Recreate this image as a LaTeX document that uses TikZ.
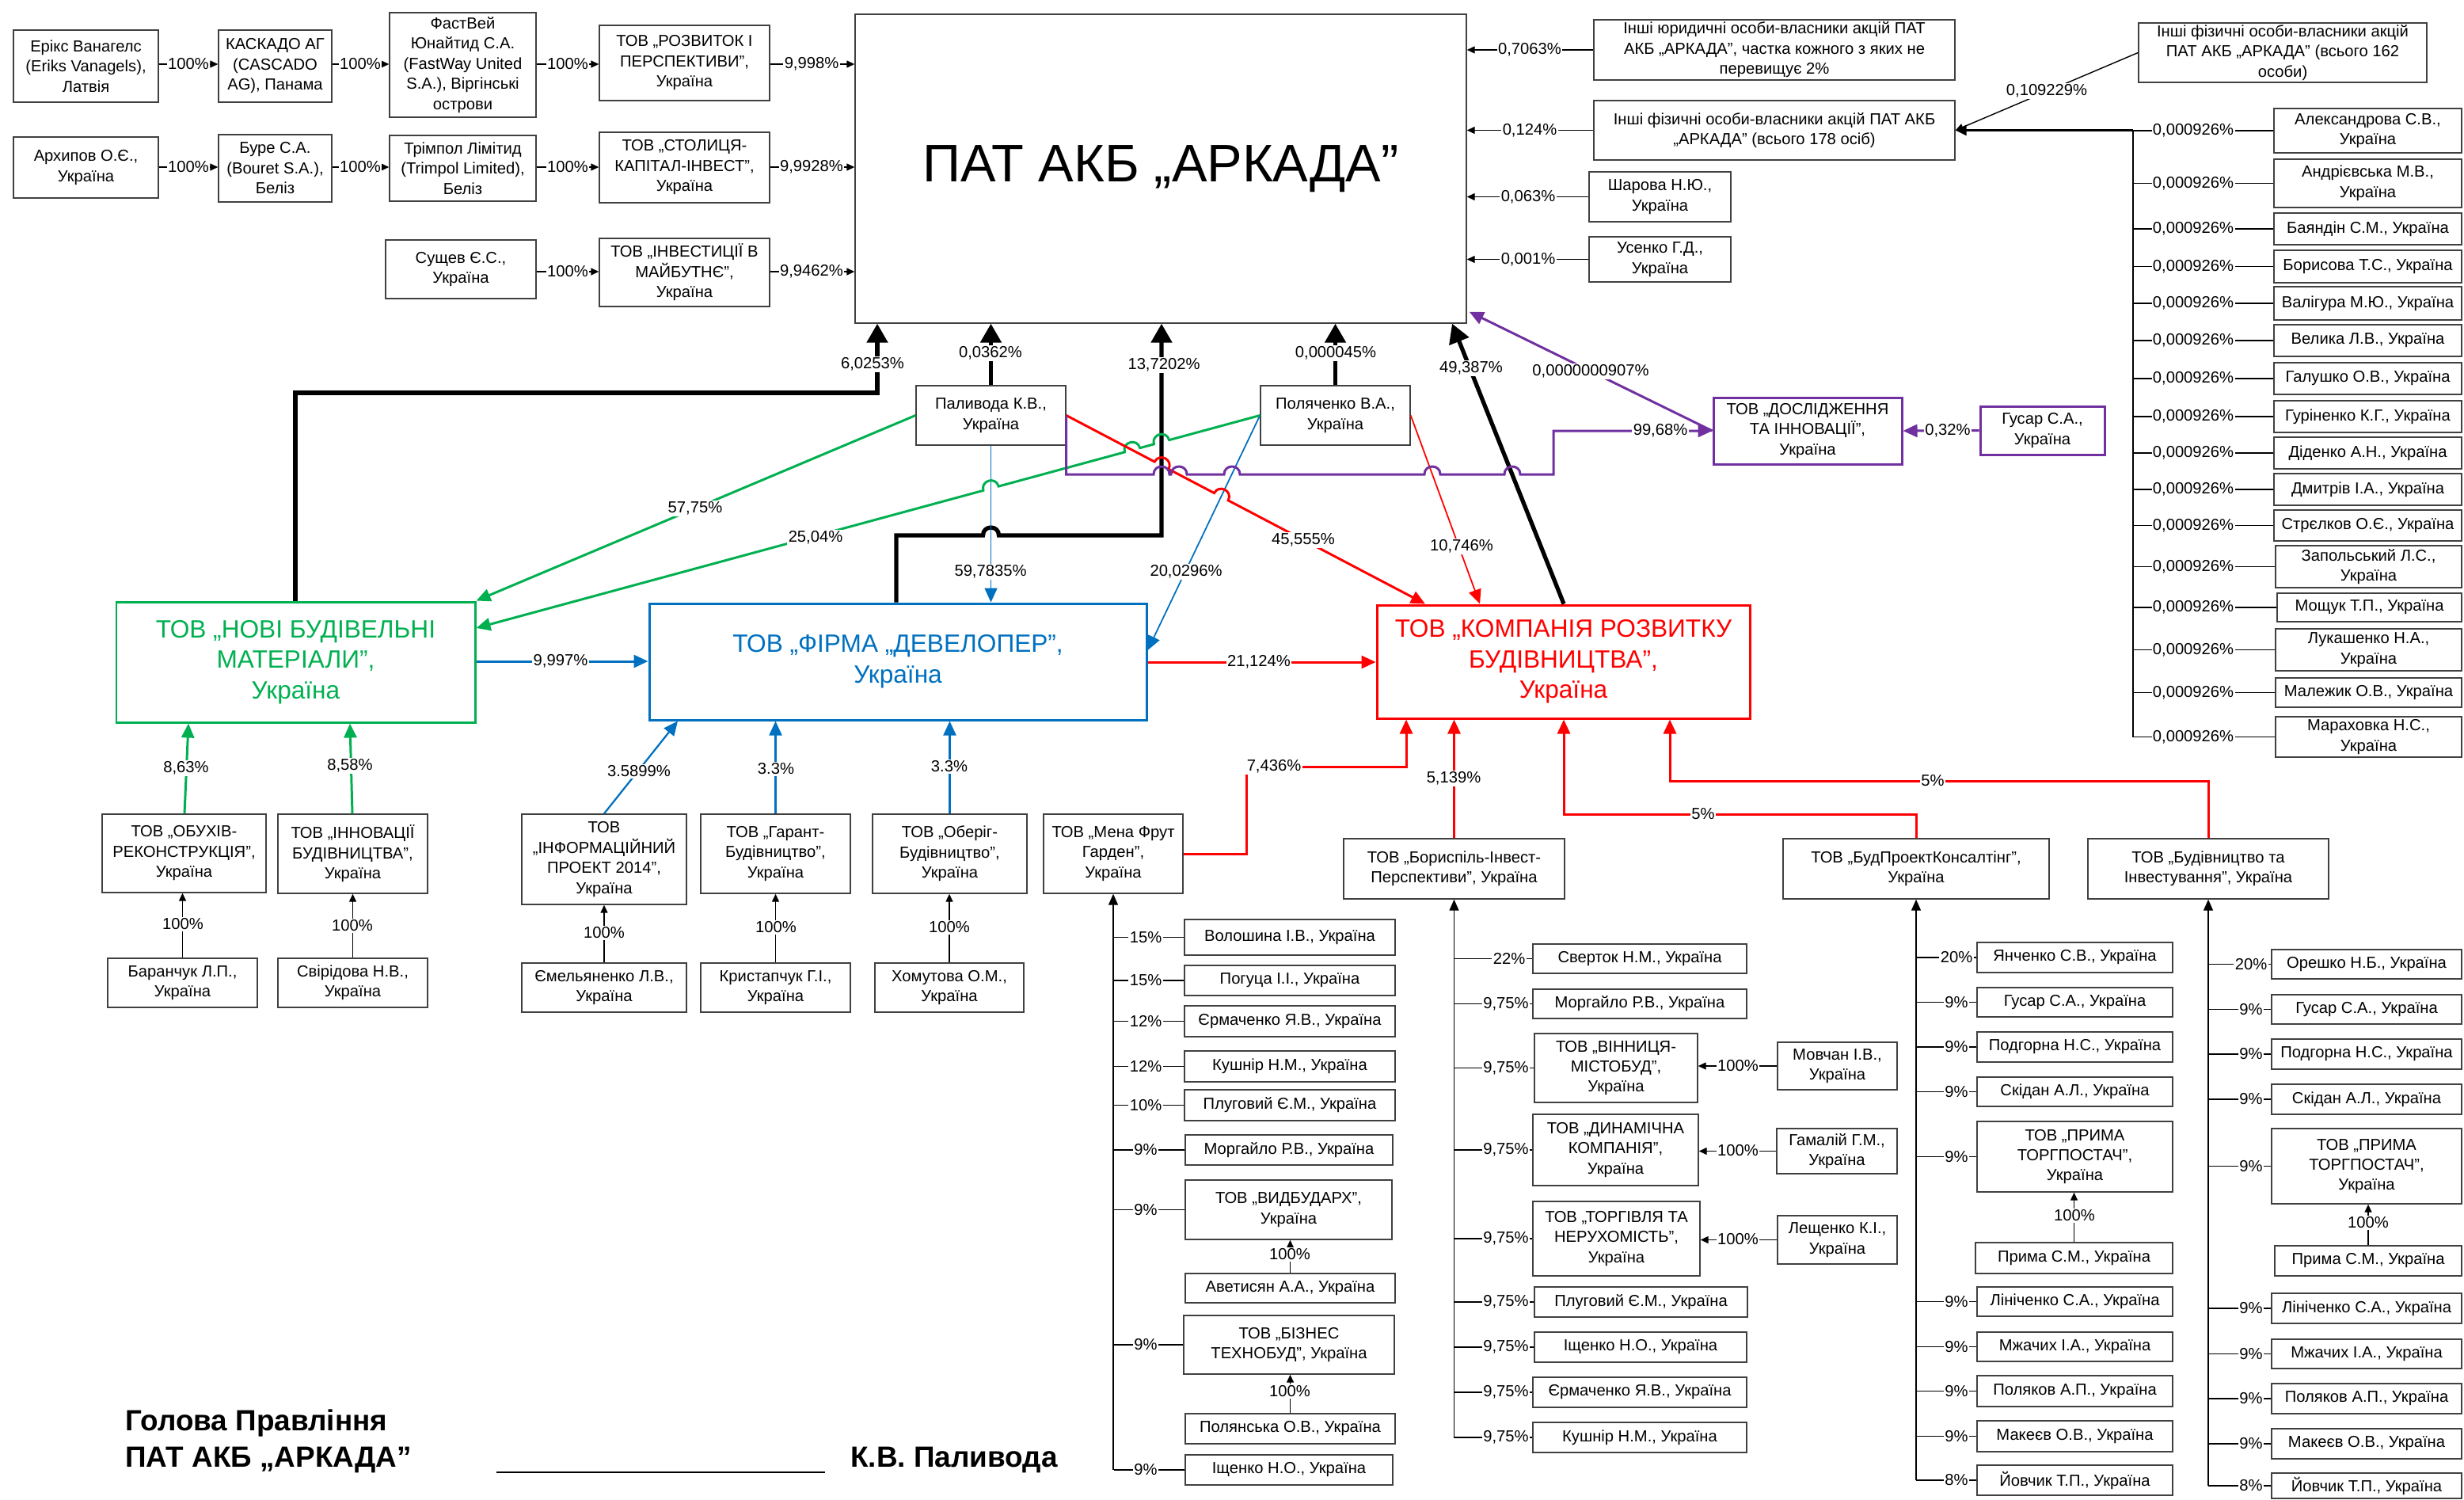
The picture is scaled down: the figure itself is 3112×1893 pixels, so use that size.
\documentclass[tikz,border=0pt]{standalone}
\usepackage{fontspec}
\setmainfont{Liberation Sans}
\usetikzlibrary{arrows.meta,calc}
\definecolor{cgreen}{RGB}{0,176,80}
\definecolor{cblue}{RGB}{0,112,192}
\definecolor{cred}{RGB}{255,0,0}
\definecolor{cpurple}{RGB}{112,48,160}
\newcommand\fsm{\fontsize{11.5}{14.5}\selectfont}
\newcommand\fbig{\fontsize{18}{22}\selectfont}
\newcommand\fpat{\fontsize{38}{44}\selectfont}
\newcommand\fsig{\fontsize{21}{25}\selectfont\bfseries}
\newcounter{lbc}
\newcommand\mybx[7][]{%
  \pgfmathsetmacro\bxw{(#5-#3)*0.02}%
  \pgfmathsetmacro\bxh{(#6-#4)*0.02}%
  \node[box,minimum width=\bxw cm,minimum height=\bxh cm,#1] (#2) at ({(#3+#5)/2},{(#4+#6)/2}) {#7};}
\newcommand\plb[3]{\stepcounter{lbc}\node[lbl] (lb\arabic{lbc}) at (#1,#2) {#3};}
\newcommand\myent[9]{%
  \mybx{#1}{#4}{#5}{#6}{#7}{#9}%
  \draw[thn] (#1.west -| #2,0) -- (#1.west);%
  \node[lbl] (#1l) at (#1.west -| #3,0) {#8};}
\newcommand\mkhop[7]{%
  \coordinate (#1) at (intersection of #2--#3 and #4--#5);
  \coordinate (#1a) at ($(#1)!0.2cm!(#2)$);
  \coordinate (#1b) at ($(#1)!0.2cm!(#3)$);
  \coordinate (#1c) at ($(#1a)!0.267cm!#6:(#1)$);
  \coordinate (#1d) at ($(#1b)!0.267cm!#7:(#1)$);}
\begin{document}
\begin{tikzpicture}[x=0.02cm,y=-0.02cm,
  box/.style={draw=black!75,line width=0.8pt,fill=white,align=center,inner sep=1pt,font=\fsm},
  lbl/.style={fill=white,inner sep=0.8pt,font=\fsm},
  thn/.style={line width=0.8pt,black},
  thnarr/.style={thn,-{Triangle[length=0.2cm,width=0.18cm]}},
  busarr/.style={thn,-{Triangle[length=0.28cm,width=0.24cm]}},
  blkarr/.style={line width=3pt,black,-{Triangle[length=0.48cm,width=0.52cm]}},
  midtip/.style={-{Triangle[length=0.36cm,width=0.32cm]}},
  gline/.style={cgreen,line width=1.7pt,midtip},
  bline/.style={cblue,line width=1.7pt,midtip},
  bthin/.style={cblue,line width=1pt,midtip},
  bmid/.style={cblue,line width=1.3pt,midtip},
  rline/.style={cred,line width=1.7pt,midtip},
  rthin/.style={cred,line width=1pt,midtip},
  pline/.style={cpurple,line width=1.7pt,midtip}]
\useasboundingbox (0,0) rectangle (3112,1893);
\fill[white] (0,0) rectangle (3112,1893);

% ---------- main box ----------
\mybx[font=\fpat]{pat}{1080}{18}{1852}{408}{ПАТ АКБ „АРКАДА”}

% ---------- top-left chains ----------
\mybx{erik}{17}{38}{200}{129}{Ерікс Ванагелс\\(Eriks Vanagels),\\Латвія}
\mybx{kaskado}{276}{38}{419}{129}{КАСКАДО АГ\\(CASCADO\\AG), Панама}
\mybx{fastway}{492}{16}{677}{148}{ФастВей\\Юнайтид С.А.\\(FastWay United\\S.A.), Віргінські\\острови}
\mybx{rozvytok}{757}{32}{972}{127}{ТОВ „РОЗВИТОК І\\ПЕРСПЕКТИВИ”,\\Україна}
\mybx{arkhypov}{17}{173}{200}{250}{Архипов О.Є.,\\Україна}
\mybx{bure}{276}{170}{419}{255}{Буре С.А.\\(Bouret S.A.),\\Беліз}
\mybx{trimpol}{492}{171}{677}{254}{Трімпол Лімітид\\(Trimpol Limited),\\Беліз}
\mybx{stolytsia}{757}{167}{972}{256}{ТОВ „СТОЛИЦЯ-\\КАПІТАЛ-ІНВЕСТ”,\\Україна}
\mybx{sushchev}{487}{303}{677}{377}{Сущев Є.С.,\\Україна}
\mybx{investytsii}{757}{301}{972}{387}{ТОВ „ІНВЕСТИЦІЇ В\\МАЙБУТНЄ”,\\Україна}

% ---------- right of main ----------
\mybx{yur}{2013}{25}{2469}{101}{Інші юридичні особи-власники акцій ПАТ\\АКБ „АРКАДА”, частка кожного з яких не\\перевищує 2\%}
\mybx{fiz178}{2013}{127}{2469}{202}{Інші фізичні особи-власники акцій ПАТ АКБ\\„АРКАДА” (всього 178 осіб)}
\mybx{sharova}{2007}{217}{2186}{280}{Шарова Н.Ю.,\\Україна}
\mybx{usenko}{2007}{299}{2186}{356}{Усенко Г.Д.,\\Україна}
\mybx{fiz162}{2701}{29}{3065}{104}{Інші фізичні особи-власники акцій\\ПАТ АКБ „АРКАДА” (всього 162\\особи)}

% ---------- right column ----------
\myent{rv1}{2694}{2770}{2872}{137}{3109}{193}{0,000926\%}{Александрова С.В.,\\Україна}
\myent{rv2}{2694}{2770}{2872}{201}{3109}{262}{0,000926\%}{Андрієвська М.В.,\\Україна}
\myent{rv3}{2694}{2770}{2872}{269}{3109}{309}{0,000926\%}{Баяндін С.М., Україна}
\myent{rv4}{2694}{2770}{2872}{316}{3109}{357}{0,000926\%}{Борисова Т.С., Україна}
\myent{rv5}{2694}{2770}{2872}{362}{3109}{404}{0,000926\%}{Валігура М.Ю., Україна}
\myent{rv6}{2694}{2770}{2872}{410}{3109}{450}{0,000926\%}{Велика Л.В., Україна}
\myent{rv7}{2694}{2770}{2872}{458}{3109}{498}{0,000926\%}{Галушко О.В., Україна}
\myent{rv8}{2694}{2770}{2872}{506}{3109}{546}{0,000926\%}{Гуріненко К.Г., Україна}
\myent{rv9}{2694}{2770}{2872}{552}{3109}{592}{0,000926\%}{Діденко А.Н., Україна}
\myent{rv10}{2694}{2770}{2872}{598}{3109}{638}{0,000926\%}{Дмитрів І.А., Україна}
\myent{rv11}{2694}{2770}{2872}{644}{3109}{683}{0,000926\%}{Стрєлков О.Є., Україна}
\myent{rv12}{2694}{2770}{2874}{689}{3109}{742}{0,000926\%}{Запольський Л.С.,\\Україна}
\myent{rv13}{2694}{2770}{2876}{749}{3109}{785}{0,000926\%}{Мощук Т.П., Україна}
\myent{rv14}{2694}{2770}{2874}{794}{3109}{847}{0,000926\%}{Лукашенко Н.А.,\\Україна}
\myent{rv15}{2694}{2770}{2874}{856}{3109}{893}{0,000926\%}{Малежик О.В., Україна}
\myent{rv16}{2694}{2770}{2874}{905}{3109}{956}{0,000926\%}{Мараховка Н.С.,\\Україна}

% ---------- middle ----------
\mybx{palyvoda}{1157}{487}{1346}{562}{Паливода К.В.,\\Україна}
\mybx{polyachenko}{1592}{487}{1781}{562}{Поляченко В.А.,\\Україна}
\mybx[draw=cpurple,line width=1.7pt]{dosl}{2164}{502}{2402}{586}{ТОВ „ДОСЛІДЖЕННЯ\\ТА ІННОВАЦІЇ”,\\Україна}
\mybx[draw=cpurple,line width=1.7pt]{gusarp}{2501}{513}{2658}{574}{Гусар С.А.,\\Україна}
\mybx[font=\fbig,draw=cgreen,text=cgreen,line width=1.7pt]{nbm}{147}{760}{600}{912}{ТОВ „НОВІ БУДІВЕЛЬНІ\\МАТЕРІАЛИ”,\\Україна}
\mybx[font=\fbig,draw=cblue,text=cblue,line width=1.7pt]{dev}{820}{762}{1448}{909}{ТОВ „ФІРМА „ДЕВЕЛОПЕР”,\\Україна}
\mybx[font=\fbig,draw=cred,text=cred,line width=1.7pt]{krb}{1739}{764}{2210}{907}{ТОВ „КОМПАНІЯ РОЗВИТКУ\\БУДІВНИЦТВА”,\\Україна}

% ---------- lower left ----------
\mybx{obukhiv}{129}{1028}{336}{1127}{ТОВ „ОБУХІВ-\\РЕКОНСТРУКЦІЯ”,\\Україна}
\mybx{innov}{351}{1028}{540}{1128}{ТОВ „ІННОВАЦІЇ\\БУДІВНИЦТВА”,\\Україна}
\mybx{baranchuk}{136}{1210}{325}{1272}{Баранчук Л.П.,\\Україна}
\mybx{sviridova}{351}{1210}{540}{1272}{Свірідова Н.В.,\\Україна}
\mybx{info}{659}{1028}{867}{1142}{ТОВ\\„ІНФОРМАЦІЙНИЙ\\ПРОЕКТ 2014”,\\Україна}
\mybx{garant}{885}{1028}{1074}{1128}{ТОВ „Гарант-\\Будівництво”,\\Україна}
\mybx{oberih}{1102}{1028}{1297}{1128}{ТОВ „Оберіг-\\Будівництво”,\\Україна}
\mybx{mena}{1318}{1028}{1494}{1128}{ТОВ „Мена Фрут\\Гарден”,\\Україна}
\mybx{emel}{659}{1216}{867}{1278}{Ємельяненко Л.В.,\\Україна}
\mybx{kryst}{885}{1216}{1074}{1278}{Кристапчук Г.І.,\\Україна}
\mybx{khom}{1105}{1216}{1293}{1278}{Хомутова О.М.,\\Україна}
\mybx{boryspil}{1697}{1059}{1976}{1135}{ТОВ „Бориспіль-Інвест-\\Перспективи”, Україна}
\mybx{budproekt}{2252}{1059}{2588}{1135}{ТОВ „БудПроектКонсалтінг”,\\Україна}
\mybx{budinv}{2637}{1059}{2941}{1135}{ТОВ „Будівництво та\\Інвестування”, Україна}

% Mena list
\myent{mv1}{1407}{1447}{1496}{1161}{1762}{1206}{15\%}{Волошина І.В., Україна}
\myent{mv2}{1407}{1447}{1496}{1219}{1762}{1257}{15\%}{Погуца І.І., Україна}
\myent{mv3}{1407}{1447}{1496}{1270}{1762}{1309}{12\%}{Єрмаченко Я.В., Україна}
\myent{mv4}{1407}{1447}{1496}{1327}{1762}{1366}{12\%}{Кушнір Н.М., Україна}
\myent{mv5}{1407}{1447}{1496}{1376}{1762}{1415}{10\%}{Плуговий Є.М., Україна}
\myent{mv6}{1407}{1447}{1497}{1433}{1759}{1471}{9\%}{Моргайло Р.В., Україна}
\myent{mv7}{1407}{1447}{1497}{1490}{1758}{1565}{9\%}{ТОВ „ВИДБУДАРХ”,\\Україна}
\mybx{mv7s}{1497}{1608}{1762}{1645}{Аветисян А.А., Україна}
\myent{mv8}{1407}{1447}{1495}{1661}{1761}{1735}{9\%}{ТОВ „БІЗНЕС\\ТЕХНОБУД”, Україна}
\mybx{mv8s}{1497}{1785}{1762}{1823}{Полянська О.В., Україна}
\myent{mv9}{1407}{1447}{1497}{1837}{1759}{1875}{9\%}{Іщенко Н.О., Україна}

% Boryspil list
\myent{bv1}{1836}{1906}{1936}{1192}{2206}{1229}{22\%}{Сверток Н.М., Україна}
\myent{bv2}{1836}{1902}{1936}{1249}{2206}{1286}{9,75\%}{Моргайло Р.В., Україна}
\myent{bv3}{1836}{1902}{1938}{1305}{2144}{1392}{9,75\%}{ТОВ „ВІННИЦЯ-\\МІСТОБУД”,\\Україна}
\myent{bv4}{1836}{1902}{1936}{1407}{2145}{1497}{9,75\%}{ТОВ „ДИНАМІЧНА\\КОМПАНІЯ”,\\Україна}
\myent{bv5}{1836}{1902}{1936}{1517}{2147}{1611}{9,75\%}{ТОВ „ТОРГІВЛЯ ТА\\НЕРУХОМІСТЬ”,\\Україна}
\myent{bv6}{1836}{1902}{1938}{1625}{2207}{1663}{9,75\%}{Плуговий Є.М., Україна}
\myent{bv7}{1836}{1902}{1938}{1682}{2206}{1720}{9,75\%}{Іщенко Н.О., Україна}
\myent{bv8}{1836}{1902}{1936}{1739}{2206}{1777}{9,75\%}{Єрмаченко Я.В., Україна}
\myent{bv9}{1836}{1902}{1936}{1796}{2206}{1834}{9,75\%}{Кушнір Н.М., Україна}
\mybx{bv3s}{2245}{1316}{2396}{1376}{Мовчан І.В.,\\Україна}
\mybx{bv4s}{2244}{1425}{2396}{1482}{Гамалій Г.М.,\\Україна}
\mybx{bv5s}{2245}{1535}{2396}{1596}{Лещенко К.І.,\\Україна}

% BudProekt list
\myent{pv1}{2420}{2471}{2497}{1190}{2744}{1228}{20\%}{Янченко С.В., Україна}
\myent{pv2}{2420}{2471}{2497}{1247}{2744}{1284}{9\%}{Гусар С.А., Україна}
\myent{pv3}{2420}{2471}{2497}{1303}{2744}{1341}{9\%}{Подгорна Н.С., Україна}
\myent{pv4}{2420}{2471}{2497}{1360}{2744}{1397}{9\%}{Скідан А.Л., Україна}
\myent{pv5}{2420}{2471}{2497}{1416}{2744}{1505}{9\%}{ТОВ „ПРИМА\\ТОРГПОСТАЧ”,\\Україна}
\mybx{pv5s}{2495}{1569}{2744}{1608}{Прима С.М., Україна}
\myent{pv6}{2420}{2471}{2497}{1625}{2744}{1662}{9\%}{Лініченко С.А., Україна}
\myent{pv7}{2420}{2471}{2497}{1682}{2744}{1719}{9\%}{Мжачих І.А., Україна}
\myent{pv8}{2420}{2471}{2497}{1737}{2744}{1776}{9\%}{Поляков А.П., Україна}
\myent{pv9}{2420}{2471}{2497}{1794}{2744}{1833}{9\%}{Макеєв О.В., Україна}
\myent{pv10}{2420}{2471}{2497}{1850}{2744}{1888}{8\%}{Йовчик Т.П., Україна}

% Budinv list
\myent{iv1}{2789}{2843}{2869}{1199}{3109}{1236}{20\%}{Орешко Н.Б., Україна}
\myent{iv2}{2789}{2843}{2869}{1256}{3109}{1293}{9\%}{Гусар С.А., Україна}
\myent{iv3}{2789}{2843}{2869}{1312}{3109}{1350}{9\%}{Подгорна Н.С., Україна}
\myent{iv4}{2789}{2843}{2869}{1369}{3109}{1407}{9\%}{Скідан А.Л., Україна}
\myent{iv5}{2789}{2843}{2869}{1425}{3109}{1520}{9\%}{ТОВ „ПРИМА\\ТОРГПОСТАЧ”,\\Україна}
\mybx{iv5s}{2873}{1573}{3109}{1611}{Прима С.М., Україна}
\myent{iv6}{2789}{2843}{2869}{1633}{3109}{1671}{9\%}{Лініченко С.А., Україна}
\myent{iv7}{2789}{2843}{2869}{1691}{3109}{1728}{9\%}{Мжачих І.А., Україна}
\myent{iv8}{2789}{2843}{2869}{1747}{3109}{1785}{9\%}{Поляков А.П., Україна}
\myent{iv9}{2789}{2843}{2869}{1804}{3109}{1842}{9\%}{Макеєв О.В., Україна}
\myent{iv10}{2789}{2843}{2869}{1860}{3109}{1892}{8\%}{Йовчик Т.П., Україна}

% ---------- connectors: top-left ----------
\draw[thnarr] (erik.east |- 0,81) -- (kaskado.west |- 0,81);
\draw[thnarr] (kaskado.east |- 0,81) -- (fastway.west |- 0,81);
\draw[thnarr] (fastway.east |- 0,81) -- (rozvytok.west |- 0,81);
\draw[thnarr] (rozvytok.east |- 0,81) -- (pat.west |- 0,81);
\draw[thnarr] (arkhypov.east |- 0,211) -- (bure.west |- 0,211);
\draw[thnarr] (bure.east |- 0,211) -- (trimpol.west |- 0,211);
\draw[thnarr] (trimpol.east |- 0,211) -- (stolytsia.west |- 0,211);
\draw[thnarr] (stolytsia.east |- 0,211) -- (pat.west |- 0,211);
\draw[thnarr] (sushchev.east |- 0,343) -- (investytsii.west |- 0,343);
\draw[thnarr] (investytsii.east |- 0,343) -- (pat.west |- 0,343);

% right of main
\draw[thnarr] (yur.west) -- (yur.west -| pat.east);
\draw[thnarr] (fiz178.west) -- (fiz178.west -| pat.east);
\draw[thnarr] (sharova.west) -- (sharova.west -| pat.east);
\draw[thnarr] (usenko.west) -- (usenko.west -| pat.east);
\draw[thnarr] (fiz162.west) -- (fiz178.east);
\draw[thn] (rv1.west -| 2694,0) -- (rv16.west -| 2694,0);
\draw[line width=1.5pt,-{Triangle[length=0.28cm,width=0.26cm]}] (fiz178.east -| 2694,0) -- (fiz178.east);

% ---------- hop geometry ----------
\coordinate (k13a) at (pat.south -| 1467,0);
\coordinate (k13b) at (1467,676);
\coordinate (r45a) at (palyvoda.east);
\coordinate (r45b) at (krb.north -| 1800,0);
\coordinate (b20a) at (polyachenko.west);
\coordinate (b20b) at (dev.east |- 0,821);
\coordinate (g25a) at (polyachenko.west);
\coordinate (g25b) at (nbm.east |- 0,793);
\coordinate (b59a) at (palyvoda.south);
\coordinate (b59b) at (palyvoda.south |- dev.north);
\mkhop{ha}{r45a}{r45b}{k13a}{k13b}{90}{-90}
\mkhop{hb}{r45a}{r45b}{b20a}{b20b}{90}{-90}
\mkhop{hc}{g25a}{g25b}{k13a}{k13b}{-90}{90}
\mkhop{hd}{g25a}{g25b}{r45a}{r45b}{-90}{90}
\mkhop{he}{g25a}{g25b}{b59a}{b59b}{-90}{90}

% ---------- black thick ----------
\draw[blkarr] (nbm.north -| 373,0) -- (373,496) -- (1108,496) -- (pat.south -| 1108,0);
\draw[blkarr] (palyvoda.north) -- (palyvoda.north |- pat.south);
\draw[blkarr] (polyachenko.north) -- (polyachenko.north |- pat.south);
\draw[blkarr] (dev.north -| 1132,0) -- (1132,676) -- (1241.5,676) .. controls (1241.5,662.7) and (1261.5,662.7) .. (1261.5,676) -- (k13b) -- (k13a);
\draw[blkarr] (krb.north -| 1975,0) -- (pat.south -| 1834,0);

% ---------- blue ----------
\draw[bline] (nbm.east |- 0,835) -- (dev.west |- 0,835);
\draw[bthin] (b59a) -- (b59b);
\draw[bthin] (b20a) -- (b20b);
\draw[bmid] (info.north -| 763,0) -- (dev.south -| 856,0);
\draw[bmid] (garant.north) -- (garant.north |- dev.south);
\draw[bmid] (oberih.north) -- (oberih.north |- dev.south);

% ---------- green ----------
\draw[gline] (palyvoda.west) -- (nbm.north east);
\draw[gline] (g25a) -- (hca) .. controls (hcc) and (hcd) .. (hcb) -- (hda) .. controls (hdc) and (hdd) .. (hdb) -- (hea) .. controls (hec) and (hed) .. (heb) -- (g25b);
\draw[gline] (obukhiv.north -| 233,0) -- (nbm.south -| 238,0);
\draw[gline] (innov.north -| 445,0) -- (nbm.south -| 442,0);

% ---------- red ----------
\draw[rline] (r45a) -- (haa) .. controls (hac) and (had) .. (hab) -- (hba) .. controls (hbc) and (hbd) .. (hbb) -- (r45b);
\draw[rthin] (polyachenko.east) -- (krb.north -| 1869,0);
\draw[rline] (dev.east |- 0,836) -- (krb.west |- 0,836);
\draw[rline] (mena.east) -- (1574,1078) -- (1574,968) -- (1776,968) -- (krb.south -| 1776,0);
\draw[rline] (boryspil.north) -- (boryspil.north |- krb.south);
\draw[rline] (budproekt.north) -- (2420,1028) -- (1975,1028) -- (krb.south -| 1975,0);
\draw[rline] (budinv.north) -- (2789,986) -- (2109,986) -- (krb.south -| 2109,0);

% ---------- purple ----------
\draw[pline] (palyvoda.east) -- (palyvoda.east |- 0,599) -- (1457,599) .. controls (1457,585.7) and (1477,585.7) .. (1477,599) -- (1479,599) .. controls (1479,585.7) and (1499,585.7) .. (1499,599) -- (1546,599) .. controls (1546,585.7) and (1566,585.7) .. (1566,599) -- (1799,599) .. controls (1799,585.7) and (1819,585.7) .. (1819,599) -- (1900,599) .. controls (1900,585.7) and (1920,585.7) .. (1920,599) -- (1962,599) -- (1962,544) -- (dosl.west);
\draw[pline] (dosl.west) -- ($(pat.south east)+(3,-15)$);
\draw[pline] (gusarp.west) -- (dosl.east);

% ---------- thin 100% lower ----------
\draw[thnarr] (baranchuk.north) -- (baranchuk.north |- obukhiv.south);
\draw[thnarr] (sviridova.north) -- (sviridova.north |- innov.south);
\draw[thnarr] (emel.north) -- (emel.north |- info.south);
\draw[thnarr] (kryst.north) -- (kryst.north |- garant.south);
\draw[thnarr] (khom.north) -- (khom.north |- oberih.south);
\draw[thnarr] (mv7s.north) -- (mv7s.north |- mv7.south);
\draw[thnarr] (mv8s.north) -- (mv8s.north |- mv8.south);
\draw[thnarr] (pv5s.north) -- (pv5s.north |- pv5.south);
\draw[thnarr] (iv5s.north) -- (iv5s.north |- iv5.south);
\draw[thnarr] (bv3s.west) -- (bv3s.west -| bv3.east);
\draw[thnarr] (bv4s.west) -- (bv4s.west -| bv4.east);
\draw[thnarr] (bv5s.west) -- (bv5s.west -| bv5.east);
\draw[busarr] (mena.south |- mv9.west) -- (mena.south);
\draw[busarr] (boryspil.south |- bv9.west) -- (boryspil.south);
\draw[busarr] (budproekt.south |- pv10.west) -- (budproekt.south);
\draw[busarr] (budinv.south |- iv10.west) -- (budinv.south);

% ---------- labels ----------
\plb{238}{81}{100\%}
\plb{455}{81}{100\%}
\plb{717}{81}{100\%}
\plb{1025}{81}{9,998\%}
\plb{238}{211}{100\%}
\plb{455}{211}{100\%}
\plb{717}{211}{100\%}
\plb{1025}{211}{9,9928\%}
\plb{717}{343}{100\%}
\plb{1025}{343}{9,9462\%}
\plb{1932}{63}{0,7063\%}
\plb{1932}{164.5}{0,124\%}
\plb{1930}{248.5}{0,063\%}
\plb{1930}{327.5}{0,001\%}
\plb{2585}{115}{0,109229\%}
\plb{1102}{460}{6,0253\%}
\plb{1251}{446}{0,0362\%}
\plb{1470}{461}{13,7202\%}
\plb{1687}{446}{0,000045\%}
\plb{1858}{465}{49,387\%}
\plb{2009}{469}{0,0000000907\%}
\plb{2097}{544}{99,68\%}
\plb{2460}{544}{0,32\%}
\plb{878}{642}{57,75\%}
\plb{1030}{679}{25,04\%}
\plb{1251}{722}{59,7835\%}
\plb{1498}{722}{20,0296\%}
\plb{1646}{682}{45,555\%}
\plb{1846}{690}{10,746\%}
\plb{708}{835}{9,997\%}
\plb{1590}{836}{21,124\%}
\plb{235}{970}{8,63\%}
\plb{442}{967}{8,58\%}
\plb{807}{974}{3.5899\%}
\plb{980}{971}{3.3\%}
\plb{1199}{968}{3.3\%}
\plb{1609}{968}{7,436\%}
\plb{1836}{983}{5,139\%}
\plb{2151}{1028}{5\%}
\plb{2441}{986}{5\%}
\plb{231}{1167}{100\%}
\plb{445}{1169}{100\%}
\plb{763}{1178}{100\%}
\plb{980}{1171}{100\%}
\plb{1199}{1171}{100\%}
\plb{1629}{1584}{100\%}
\plb{1629}{1757}{100\%}
\plb{2620}{1535}{100\%}
\plb{2991}{1544}{100\%}
\plb{2195}{1346}{100\%}
\plb{2195}{1453}{100\%}
\plb{2195}{1565}{100\%}

% ---------- signature ----------
\node[font=\fsig,anchor=west,inner sep=0] (sig1) at (158,1797) {Голова Правління};
\node[font=\fsig,anchor=west,inner sep=0] (sig2) at (158,1843) {ПАТ АКБ „АРКАДА”};
\draw[line width=1.4pt] (627,1859) -- (1042,1859);
\node[font=\fsig,anchor=west,inner sep=0] (sig3) at (1074,1843) {К.В. Паливода};
\end{tikzpicture}
\end{document}
